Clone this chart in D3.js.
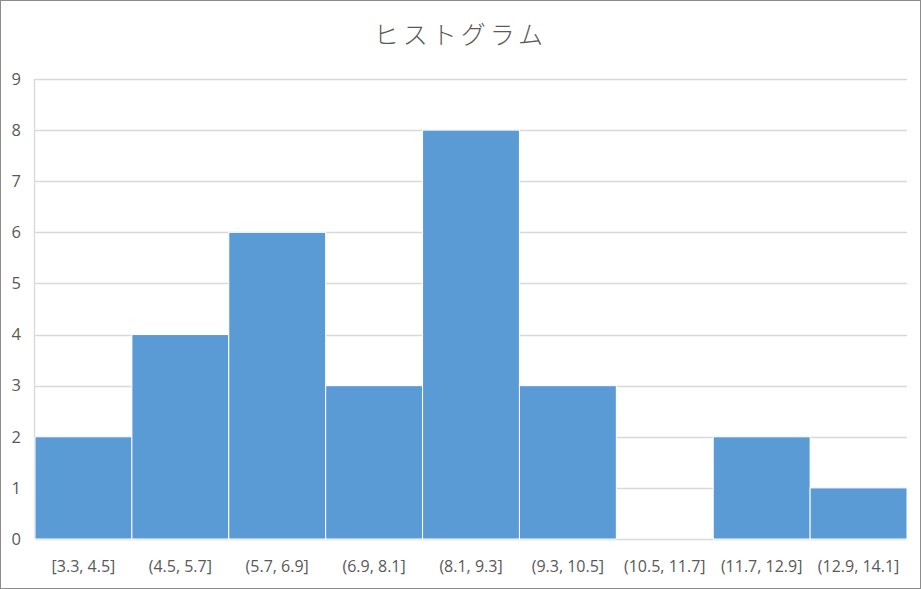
<!DOCTYPE html>
<html>
<head>
<meta charset="utf-8">
<script src="https://cdn.jsdelivr.net/npm/d3@7"></script>
<style>
  html, body { margin: 0; padding: 0; background: #fff; }
  svg { display: block; }
</style>
</head>
<body>
<svg id="chart" width="921" height="589"></svg>
<script>
// bin labels and counts
const bins = ["[3.3, 4.5]", "(4.5, 5.7]", "(5.7, 6.9]", "(6.9, 8.1]", "(8.1, 9.3]",
              "(9.3, 10.5]", "(10.5, 11.7]", "(11.7, 12.9]", "(12.9, 14.1]"];
const counts = [2, 4, 6, 3, 8, 3, 0, 2, 1];
const yTicks = [0, 1, 2, 3, 4, 5, 6, 7, 8, 9];
const title = "ヒストグラム";

const W = 921, H = 589;
const m = { left: 35, right: 14, top: 79, bottom: 50 };

const svg = d3.select("#chart");

// outer frame
svg.append("rect")
  .attr("x", 0.5).attr("y", 0.5)
  .attr("width", W - 1).attr("height", H - 1)
  .attr("fill", "#fff").attr("stroke", "#8c8c8c");

const x = d3.scaleBand().domain(bins).range([m.left, W - m.right]).padding(0);
const y = d3.scaleLinear().domain([0, 9]).range([H - m.bottom, m.top]);

// gridlines
svg.append("g")
  .selectAll("line")
  .data(yTicks)
  .enter()
  .append("line")
  .attr("x1", m.left).attr("x2", W - m.right)
  .attr("y1", d => Math.round(y(d)) + 0.5)
  .attr("y2", d => Math.round(y(d)) + 0.5)
  .attr("stroke", "#d9d9d9").attr("stroke-width", 1.3);

// left axis line
svg.append("line")
  .attr("x1", m.left - 0.5).attr("x2", m.left - 0.5)
  .attr("y1", y(9)).attr("y2", y(0))
  .attr("stroke", "#d9d9d9").attr("stroke-width", 1.3);

// bars, 1px white seams between them
svg.append("g")
  .selectAll("rect")
  .data(counts)
  .enter()
  .append("rect")
  .attr("x", (d, i) => x(bins[i]))
  .attr("width", x.bandwidth())
  .attr("y", d => y(d))
  .attr("height", d => y(0) - y(d))
  .attr("fill", "#5b9bd5")
  .attr("stroke", "#fff").attr("stroke-width", d => d ? 1 : 0);

// y tick labels
svg.append("g")
  .selectAll("text")
  .data(yTicks)
  .enter()
  .append("text")
  .attr("x", 21)
  .attr("y", d => y(d))
  .attr("dy", "0.35em")
  .attr("text-anchor", "end")
  .attr("font-family", "'Open Sans', 'Noto Sans', sans-serif")
  .attr("font-size", 16.5)
  .attr("fill", "#595959")
  .text(d => d);

// x tick labels
svg.append("g")
  .selectAll("text")
  .data(bins)
  .enter()
  .append("text")
  .attr("x", d => x(d) + x.bandwidth() / 2)
  .attr("y", H - m.bottom + 27)
  .attr("dy", "0.35em")
  .attr("text-anchor", "middle")
  .attr("font-family", "'Open Sans', 'Noto Sans', sans-serif")
  .attr("font-size", 16)
  .attr("fill", "#595959")
  .text(d => d);

// title
svg.append("text")
  .attr("x", W / 2)
  .attr("y", 35)
  .attr("dy", "0.35em")
  .attr("text-anchor", "middle")
  .attr("font-family", "'Noto Sans CJK JP', sans-serif")
  .attr("font-weight", 300)
  .attr("font-size", 25)
  .attr("letter-spacing", 4)
  .attr("fill", "#595959")
  .text(title);
</script>
</body>
</html>
